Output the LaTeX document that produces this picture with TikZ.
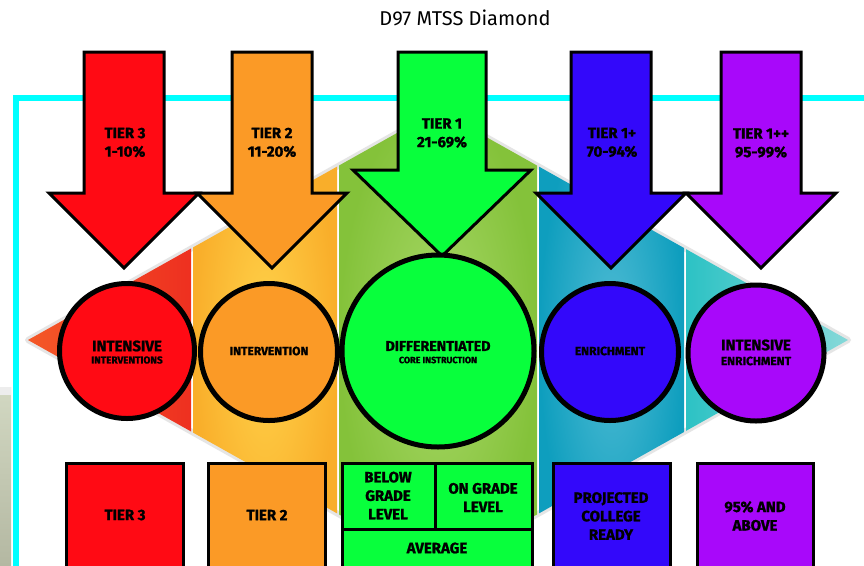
\documentclass[tikz,border=0pt]{standalone}
\usepackage{fontspec}
\setmainfont{Fira Sans}[BoldFeatures={FakeBold=1.2}]
\definecolor{tred}{HTML}{FF0A14}
\definecolor{torange}{HTML}{FB9A26}
\definecolor{tgreen}{HTML}{08FF3C}
\definecolor{tblue}{HTML}{3308FA}
\definecolor{tpurple}{HTML}{A808FA}
\definecolor{framecyan}{HTML}{00FFFF}
\definecolor{bandredA}{HTML}{F45A28}
\definecolor{bandredB}{HTML}{EE3020}
\definecolor{bandyelA}{HTML}{FFD24A}
\definecolor{bandyelB}{HTML}{F9AE2A}
\definecolor{bandgrnA}{HTML}{A8D868}
\definecolor{bandgrnB}{HTML}{84C23A}
\definecolor{bandbluA}{HTML}{50BCD4}
\definecolor{bandbluB}{HTML}{0E9EBE}
\definecolor{bandtealA}{HTML}{2CC2C4}
\definecolor{bandtealB}{HTML}{8CDADA}
\definecolor{stripA}{HTML}{D2D8C2}
\definecolor{stripB}{HTML}{B4B8A2}
\tikzset{
  arrowline/.style={draw=black, line width=3pt, line join=miter},
  boxline/.style={draw=black, line width=3pt},
  circ/.style={circle, draw=black, line width=5pt, inner sep=0pt},
  bigtxt/.style={font=\bfseries\fontsize{15}{18.5}\selectfont, align=center, inner sep=0pt},
  midtxt/.style={font=\bfseries\fontsize{12}{13}\selectfont, align=center, inner sep=0pt},
  smalltxt/.style={font=\bfseries\fontsize{9.5}{11}\selectfont, align=center, inner sep=0pt},
}
\newcommand\tierarrow[7]{%
  \filldraw[arrowline, fill=#7] ({#2-#3},52) -- ({#2+#3},52) -- ({#2+#3},#5) -- ({#2+#4},#5)
    -- (#2,#6) -- ({#2-#4},#5) -- ({#2-#3},#5) -- cycle;
  \coordinate (#1) at (#2,#6);}
\begin{document}
\begin{tikzpicture}[x=1pt,y=-1pt]
\useasboundingbox (0,0) rectangle (864,565);
\fill[white] (0,0) rectangle (864,565);
% left grey strip
\shade[top color=stripA, bottom color=stripB] (0,387) rectangle (11,565);
\fill[black!7] (0,387) rectangle (11,395);
% cyan frame
\draw[framecyan, line width=6pt] (16,98) rectangle (900,640);
% diamond
\coordinate (L) at (28,340);
\coordinate (T) at (438,110);
\coordinate (R) at (848,340);
\coordinate (B) at (438,570);
\draw[black!10, line width=6pt, line join=round, shift={(2,3)}] (L) -- (T) -- (R) -- (B) -- cycle;
\begin{scope}
  \clip (L) -- (T) -- (R) -- (B) -- cycle;
  \shade[left color=bandredA, right color=bandredB] (20,100) rectangle (191,580);
  \shade[inner color=bandyelA, outer color=bandyelB] (193,100) rectangle (337,580);
  \shade[inner color=bandgrnA, outer color=bandgrnB] (339,100) rectangle (537,580);
  \shade[inner color=bandbluA, outer color=bandbluB] (539,100) rectangle (684,580);
  \shade[left color=bandtealA, right color=bandtealB] (686,100) rectangle (860,580);
\end{scope}
% arrows
\tierarrow{a3}{124}{40}{75}{193}{268}{tred}
\tierarrow{a2}{272}{40}{75}{193}{268}{torange}
\tierarrow{a1}{442}{44}{89}{170}{256}{tgreen}
\tierarrow{a1p}{611}{40}{75}{193}{268}{tblue}
\tierarrow{a1pp}{761}{40}{75}{193}{268}{tpurple}
\node[bigtxt] (ta3) at (125,142.5) {TIER 3\\1-10\%};
\node[bigtxt] (ta2) at (272,142.5) {TIER 2\\11-20\%};
\node[bigtxt] (ta1) at (442,133) {TIER 1\\21-69\%};
\node[bigtxt] (ta1p) at (612,142.5) {TIER 1+\\70-94\%};
\node[bigtxt] (ta1pp) at (761,143) {TIER 1++\\95-99\%};
% circles
\node[circ, fill=tred, minimum size=135pt] (c3) at (127,351) {};
\node[circ, fill=torange, minimum size=137pt] (c2) at (269,352) {};
\node[circ, fill=tgreen, minimum size=192pt] (c1) at (438,351) {};
\node[circ, fill=tblue, minimum size=137pt] (c1p) at (610,352) {};
\node[circ, fill=tpurple, minimum size=136pt] (c1pp) at (756,353) {};
\node[bigtxt] (c3a) at (127,346) {INTENSIVE};
\node[smalltxt, font=\bfseries\fontsize{10}{12}\selectfont] (c3b) at (127,360) {INTERVENTIONS};
\node[midtxt] (c2a) at (269,351) {INTERVENTION};
\node[bigtxt, font=\bfseries\fontsize{14.3}{15}\selectfont] (c1a) at (438,346) {DIFFERENTIATED};
\node[smalltxt, font=\bfseries\fontsize{9}{11}\selectfont] (c1b) at (438,360) {CORE INSTRUCTION};
\node[midtxt] (c1pa) at (610,351) {ENRICHMENT};
\node[bigtxt] (c1ppa) at (756,345) {INTENSIVE};
\node[midtxt] (c1ppb) at (756,361) {ENRICHMENT};
% boxes
\draw[boxline, fill=tred] (66,463) rectangle (183,580);
\draw[boxline, fill=torange] (208,463) rectangle (325,580);
\draw[boxline, fill=tgreen] (342,463) rectangle (532,580);
\draw[boxline] (435,463) -- (435,529);
\draw[boxline] (342,529) -- (532,529);
\draw[boxline, fill=tblue] (553,463) rectangle (670,580);
\draw[boxline, fill=tpurple] (697,463) rectangle (813,580);
\node[bigtxt] (b3) at (125,515) {TIER 3};
\node[bigtxt] (b2) at (267,515) {TIER 2};
\node[bigtxt] (bbelow) at (388,495.5) {BELOW\\GRADE\\LEVEL};
\node[bigtxt] (bon) at (483,497.5) {ON GRADE\\LEVEL};
\node[bigtxt] (bavg) at (437,548) {AVERAGE};
\node[bigtxt] (bproj) at (611,516) {PROJECTED\\COLLEGE\\READY};
\node[bigtxt] (babove) at (755,516) {95\% AND\\ABOVE};
% title
\node[font=\fontsize{20}{24}\selectfont, inner sep=0pt] (title) at (465,18) {D97 MTSS Diamond};
\end{tikzpicture}
\end{document}
